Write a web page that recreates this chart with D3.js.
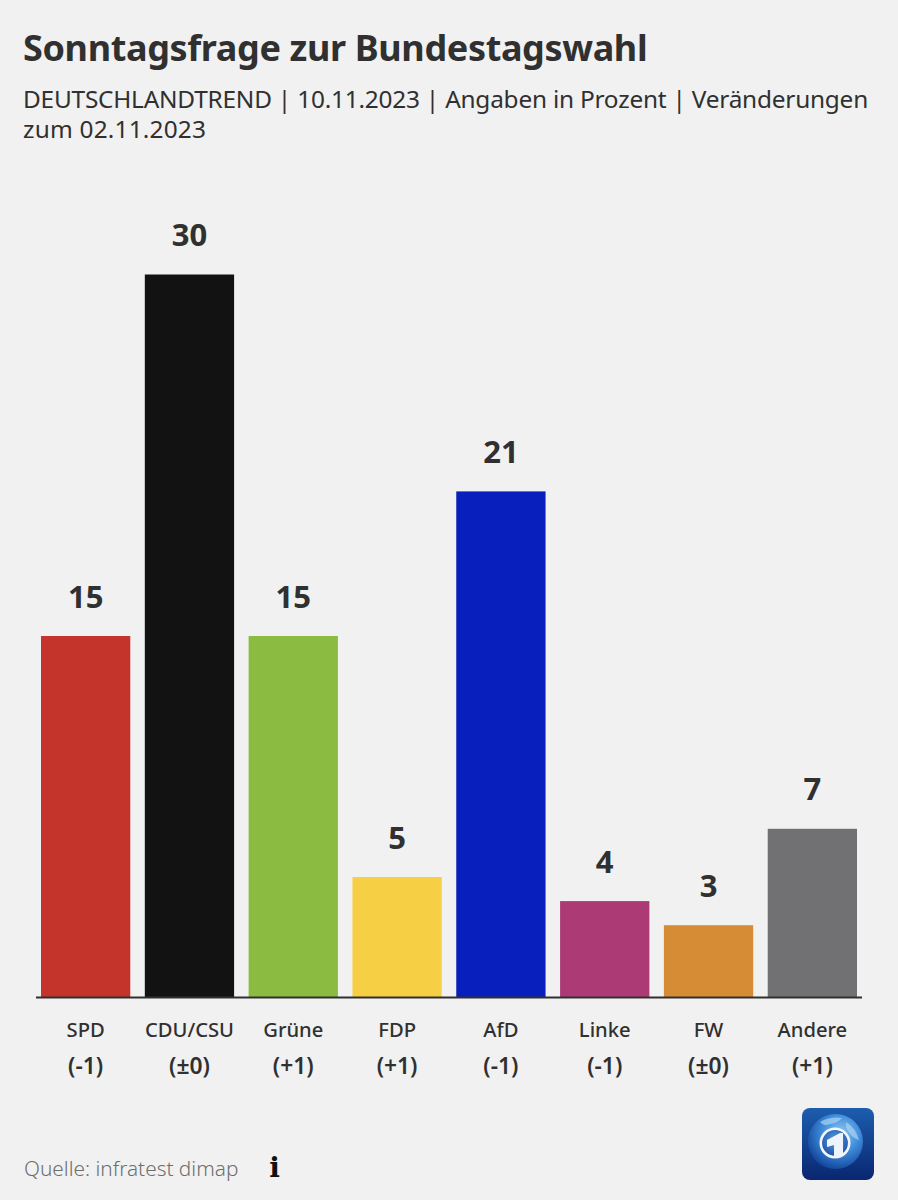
<!DOCTYPE html>
<html>
<head>
<meta charset="utf-8">
<script src="https://cdn.jsdelivr.net/npm/d3@7"></script>
<style>
html, body { margin: 0; padding: 0; background: #f1f1f1; }
text { font-family: "Noto Sans", "Open Sans", sans-serif; fill: #303030; }
</style>
</head>
<body>
<div id="chart"></div>
<script>
var width = 898;
var height = 1200;

var parties = ["SPD", "CDU/CSU", "Grüne", "FDP", "AfD", "Linke", "FW", "Andere"];
var values = [15, 30, 15, 5, 21, 4, 3, 7];
var changes = ["(-1)", "(±0)", "(+1)", "(+1)", "(-1)", "(-1)", "(±0)", "(+1)"];
var colors = ["#c4342b", "#121212", "#8bbb40", "#f6cf45", "#081fbd", "#ab3a75", "#d68c34", "#717173"];

var svg = d3.select("#chart").append("svg")
    .attr("width", width)
    .attr("height", height)
    .style("display", "block");

// header
svg.append("text").attr("x", 23).attr("y", 61)
    .style("font-size", "36px").style("font-weight", 700).style("letter-spacing", "-0.36px")
    .text("Sonntagsfrage zur Bundestagswahl");
svg.append("text").attr("x", 23).attr("y", 108)
    .style("font-size", "24.4px").style("letter-spacing", "-0.22px")
    .text("DEUTSCHLANDTREND | 10.11.2023 | Angaben in Prozent | Veränderungen");
svg.append("text").attr("x", 23).attr("y", 138)
    .style("font-size", "24.4px").style("letter-spacing", "0.2px")
    .text("zum 02.11.2023");

var xScale = d3.scaleBand().domain(parties).range([41, 857]).paddingInner(0.14).paddingOuter(0);
var yScale = d3.scaleLinear().domain([0, 30]).range([997.5, 274.5]);

svg.selectAll("rect.bar")
    .data(values)
    .enter()
    .append("rect")
    .attr("class", "bar")
    .attr("x", function(d, i) { return xScale(parties[i]); })
    .attr("y", function(d) { return yScale(d); })
    .attr("width", xScale.bandwidth())
    .attr("height", function(d) { return yScale(0) - yScale(d); })
    .attr("fill", function(d, i) { return colors[i]; });

// value labels
svg.selectAll("text.value")
    .data(values)
    .enter()
    .append("text")
    .attr("class", "value")
    .attr("x", function(d, i) { return xScale(parties[i]) + xScale.bandwidth() / 2; })
    .attr("y", function(d) { return yScale(d) - 28.5; })
    .attr("text-anchor", "middle")
    .style("font-size", "31px")
    .style("font-weight", 700)
    .text(function(d) { return d; });

// axis
var xAxis = d3.axisBottom(xScale).tickSize(0).tickPadding(0);
var axisG = svg.append("g").attr("transform", "translate(0,997)").call(xAxis);
axisG.select(".domain").remove();
axisG.selectAll(".tick text")
    .attr("y", 39.5)
    .attr("dy", 0)
    .style("font-size", "20.2px")
    .style("font-weight", 500);
svg.append("line")
    .attr("x1", 36).attr("x2", 862)
    .attr("y1", 997.5).attr("y2", 997.5)
    .attr("stroke", "#303030").attr("stroke-width", 2);

svg.selectAll("text.change")
    .data(changes)
    .enter()
    .append("text")
    .attr("class", "change")
    .attr("x", function(d, i) { return xScale(parties[i]) + xScale.bandwidth() / 2; })
    .attr("y", 1073.5)
    .attr("text-anchor", "middle")
    .style("font-size", "22.8px")
    .style("font-weight", 600)
    .text(function(d) { return d; });

// footer
svg.append("text").attr("x", 24).attr("y", 1176)
    .style("font-size", "20.8px").style("font-weight", 300).style("fill", "#6e6e6e")
    .text("Quelle: infratest dimap");
svg.append("text").attr("x", 274.5).attr("y", 1177)
    .attr("text-anchor", "middle")
    .style("font-family", "'DejaVu Serif'").style("font-size", "28px").style("font-weight", 700)
    .style("fill", "#111")
    .text("i");

// tagesschau logo
var defs = svg.append("defs");
var bg = defs.append("linearGradient").attr("id", "logoBg").attr("x1", 0).attr("y1", 0).attr("x2", 0).attr("y2", 1);
bg.append("stop").attr("offset", 0).attr("stop-color", "#1d5dae");
bg.append("stop").attr("offset", 1).attr("stop-color", "#0a2670");
var globe = defs.append("radialGradient").attr("id", "logoGlobe").attr("cx", 0.6).attr("cy", 0.35).attr("r", 0.68);
globe.append("stop").attr("offset", 0).attr("stop-color", "#8fc6ef");
globe.append("stop").attr("offset", 0.5).attr("stop-color", "#3f8ddb");
globe.append("stop").attr("offset", 1).attr("stop-color", "#12459c");
var ring = defs.append("radialGradient").attr("id", "logoInner").attr("cx", 0.5).attr("cy", 0.4).attr("r", 0.65);
ring.append("stop").attr("offset", 0).attr("stop-color", "#5a9fe2");
ring.append("stop").attr("offset", 1).attr("stop-color", "#17479f");

var logo = svg.append("g").attr("transform", "translate(802,1108)");
logo.append("rect").attr("width", 72).attr("height", 72).attr("rx", 8).attr("fill", "url(#logoBg)");
logo.append("circle").attr("cx", 33.5).attr("cy", 33.5).attr("r", 27.5).attr("fill", "url(#logoGlobe)");
// land patches on the globe
logo.append("path").attr("d", "M18 14 Q28 8 40 10 Q36 15 28 16 Q22 19 18 14 Z").attr("fill", "#a9d3f2").attr("opacity", 0.7);
logo.append("path").attr("d", "M44 14 Q54 20 57 32 Q50 30 47 24 Q43 20 44 14 Z").attr("fill", "#b8dcf5").attr("opacity", 0.6);
logo.append("circle").attr("cx", 33).attr("cy", 35).attr("r", 14.2)
    .attr("fill", "url(#logoInner)").attr("stroke", "#f2f6fb").attr("stroke-width", 2.6);
logo.append("path").attr("d", "M25 32 L38 25 L41 25 L41 48 L32 49 L32 37 L25 39 Z").attr("fill", "#eef4fb");
</script>
</body>
</html>
